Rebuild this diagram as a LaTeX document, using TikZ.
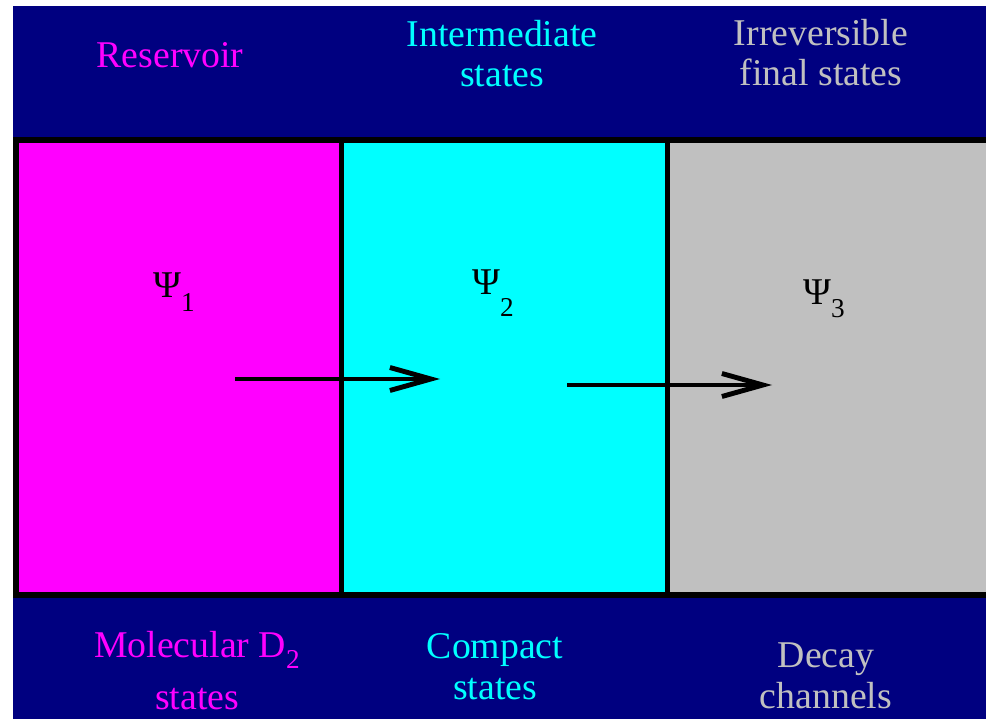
\documentclass[tikz,border=0pt]{standalone}
\usepackage{fontspec}
\setmainfont{Liberation Serif}
\usepackage{tikz}
\usetikzlibrary{arrows.meta, positioning}
\definecolor{navybg}{RGB}{0,0,128}
\definecolor{resmagenta}{RGB}{255,0,255}
\definecolor{intcyan}{RGB}{0,255,255}
\definecolor{fingray}{RGB}{192,192,192}
\newcommand{\subdigit}[2]{\raisebox{-#1pt}{\fontsize{15.5pt}{16pt}\selectfont #2}}

\begin{document}
\begin{tikzpicture}[
  x=0.02cm, y=-0.02cm,
  frame/.style={draw=black, line width=3.1pt},
  caption/.style={font=\fontsize{21.5pt}{23.3pt}\selectfont, align=center,
    anchor=base, inner sep=0pt},
  psi/.style={font=\fontsize{21.5pt}{23pt}\selectfont, anchor=base west,
    inner sep=0pt},
  flow/.style={-{Straight Barb[length=0.82cm, width=0.46cm]}, line width=2.8pt,
    color=black},
]
\useasboundingbox (0,0) rectangle (986,719);
\fill[navybg] (13,6) rectangle (986,719);

% the three boxes
\filldraw[frame, fill=resmagenta] (16,140) rectangle (341.5,595);
\filldraw[frame, fill=intcyan]    (341.5,140) rectangle (667.5,595);
\filldraw[frame, fill=fingray]    (667.5,140) rectangle (995,595);

% top captions (anchored at the last line)
\node[caption, text=resmagenta] (restop)   at (170,68) {Reservoir};
\node[caption, text=intcyan]    (inttop)   at (502,87) {Intermediate\\states};
\node[caption, text=fingray]    (fintop)   at (821,86) {Irreversible\\final states};

% bottom captions
\node[caption, text=resmagenta] (resbot) at (197,709)
  {Molecular D\subdigit{6}{2}\\[6pt]states};
\node[caption, text=intcyan]    (intbot) at (495,699) {Compact\\states};
\node[caption, text=fingray]    (finbot) at (826,708) {Decay\\channels};

% wave functions
\node[psi] (psione)   at (153,297) {Ψ\subdigit{8}{1}};
\node[psi] (psitwo)   at (472,295) {Ψ\subdigit{12.5}{2}};
\node[psi] (psithree) at (803,304) {Ψ\subdigit{7.5}{3}};

% transfer arrows
\coordinate (startone) at (235,379);
\coordinate (endone)   at (440,379);
\coordinate (starttwo) at (567,385);
\coordinate (endtwo)   at (772,385);
\draw[flow] (startone) -- (endone);
\draw[flow] (starttwo) -- (endtwo);

\end{tikzpicture}
\end{document}
